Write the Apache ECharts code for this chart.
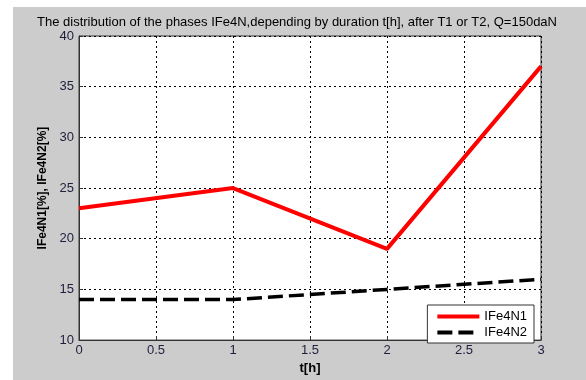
<!DOCTYPE html>
<html>
<head>
<meta charset="utf-8">
<script src="https://cdn.jsdelivr.net/npm/echarts@6/dist/echarts.min.js"></script>
<style>
  html, body { margin: 0; padding: 0; background: #ffffff; }
  #chart { width: 586px; height: 380px; }
</style>
</head>
<body>
<div id="chart"></div>
<script>
// Duration t[h] and phase fractions
const hours = [0, 1, 2, 3];
const phaseN1 = [23, 25, 19, 37];
const phaseN2 = [14, 14, 15, 16];
const yTicks = [10, 15, 20, 25, 30, 35, 40];
const xTicks = [0, 0.5, 1, 1.5, 2, 2.5, 3];

const toPairs = (xs, ys) => xs.map((x, i) => [x, ys[i]]);

const chart = echarts.init(document.getElementById('chart'), null, { renderer: 'canvas' });

const labelColor = '#1e1e3c';
const font = 'Liberation Sans, Arial, sans-serif';
// legend shows only the line sample, no marker
const noMarker = { color: 'rgba(0,0,0,0)', borderWidth: 0, opacity: 0 };

chart.setOption({
  backgroundColor: '#ffffff',
  animation: false,
  graphic: [
    { type: 'rect', z: -10, silent: true, shape: { x: 13, y: 7, width: 573, height: 373 }, style: { fill: '#cccccc' } }
  ],
  title: {
    text: 'The distribution of the phases IFe4N,depending by duration t[h], after T1 or T2, Q=150daN',
    left: 292, top: 11, textAlign: 'center',
    textStyle: { fontFamily: font, fontSize: 13, fontWeight: 'normal', color: '#000' }
  },
  grid: {
    left: 79, right: 45, top: 36, bottom: 32,
    show: true, backgroundColor: '#ffffff', borderColor: '#333333', borderWidth: 1
  },
  legend: {
    orient: 'vertical',
    right: 52, bottom: 37,
    backgroundColor: '#ffffff', borderColor: '#333333', borderWidth: 1,
    padding: [5, 7, 4, 8], itemGap: 3,
    itemWidth: 42, itemHeight: 12,
    textStyle: { fontFamily: font, fontSize: 13, color: '#000' },
    data: [
      { name: 'IFe4N1', itemStyle: noMarker, lineStyle: { width: 4 } },
      { name: 'IFe4N2', itemStyle: noMarker, lineStyle: { width: 4 } }
    ]
  },
  xAxis: {
    type: 'value', min: 0, max: 3, interval: 0.5,
    name: 't[h]', nameLocation: 'middle', nameGap: 17,
    nameTextStyle: { fontFamily: font, fontSize: 13, fontWeight: 'bold', color: '#000' },
    axisLine: { show: true, lineStyle: { color: '#333333', width: 1 } },
    axisTick: { show: true, inside: true, length: 4, lineStyle: { color: '#333' } },
    axisLabel: {
      margin: 4, color: labelColor, fontFamily: font, fontSize: 13,
      formatter: v => (xTicks.includes(v) ? String(v) : '')
    },
    splitLine: { show: true, lineStyle: { color: '#000', width: 1, type: [2, 3] } }
  },
  yAxis: {
    type: 'value', min: 10, max: 40, interval: 5,
    name: 'IFe4N1[%], IFe4N2[%]', nameLocation: 'middle', nameGap: 30,
    nameTextStyle: { fontFamily: font, fontSize: 12, fontWeight: 'bold', color: '#000' },
    axisLine: { show: true, lineStyle: { color: '#333333', width: 1 } },
    axisTick: { show: true, inside: true, length: 4, lineStyle: { color: '#333' } },
    axisLabel: {
      margin: 5, color: labelColor, fontFamily: font, fontSize: 13,
      formatter: v => (yTicks.includes(v) ? String(v) : '')
    },
    splitLine: { show: true, lineStyle: { color: '#000', width: 1, type: [2, 3] } }
  },
  series: [
    {
      name: 'IFe4N1', type: 'line', data: toPairs(hours, phaseN1),
      showSymbol: false, symbol: 'none',
      lineStyle: { color: '#ff0000', width: 4 },
      itemStyle: { color: '#ff0000' }
    },
    {
      name: 'IFe4N2', type: 'line', data: toPairs(hours, phaseN2),
      showSymbol: false, symbol: 'none',
      lineStyle: { color: '#000000', width: 3.5, type: [15, 6] },
      itemStyle: { color: '#000000' }
    }
  ]
});
</script>
</body>
</html>
